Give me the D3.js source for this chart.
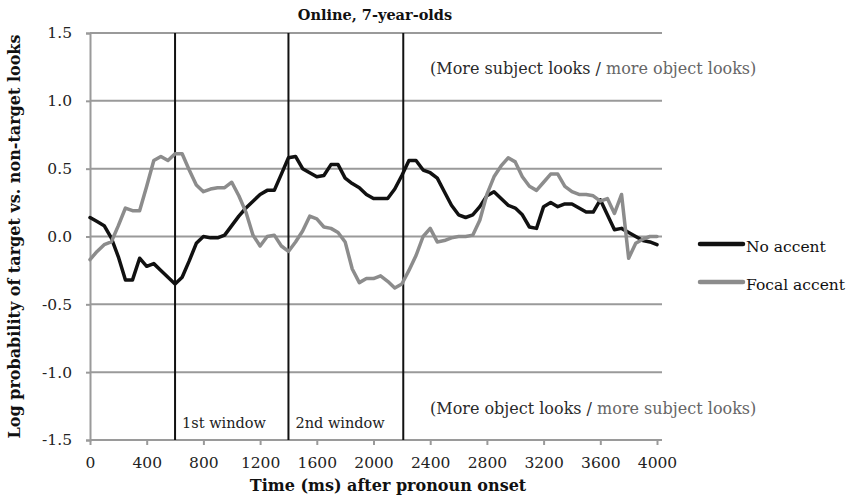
<!DOCTYPE html>
<html>
<head>
<meta charset="utf-8">
<script src="https://cdn.jsdelivr.net/npm/d3@7/dist/d3.min.js"></script>
<style>
  body { margin: 0; background: #fff; }
  svg { display: block; }
</style>
</head>
<body>
<svg id="chart" width="847" height="496"></svg>
<script>
// Sample times (ms after pronoun onset), one every 50 ms
const times = d3.range(0, 4001, 50);

// Log probability of target vs. non-target looks
const noAccent = [
  0.14, 0.11, 0.08, -0.01, -0.15, -0.32, -0.32, -0.16, -0.22, -0.20,
  -0.25, -0.30, -0.35, -0.30, -0.18, -0.05, 0.00, -0.01, -0.01, 0.01,
  0.08, 0.15, 0.21, 0.26, 0.31, 0.34, 0.34, 0.46, 0.58, 0.59,
  0.50, 0.47, 0.44, 0.45, 0.53, 0.53, 0.43, 0.39, 0.36, 0.31,
  0.28, 0.28, 0.28, 0.35, 0.45, 0.56, 0.56, 0.49, 0.47, 0.43,
  0.33, 0.23, 0.16, 0.14, 0.16, 0.22, 0.30, 0.33, 0.28, 0.23,
  0.21, 0.16, 0.07, 0.06, 0.22, 0.25, 0.22, 0.24, 0.24, 0.21,
  0.18, 0.18, 0.27, 0.16, 0.05, 0.06, 0.03, 0.00, -0.03, -0.04,
  -0.06
];
const focalAccent = [
  -0.17, -0.11, -0.06, -0.04, 0.08, 0.21, 0.19, 0.19, 0.37, 0.56,
  0.59, 0.56, 0.61, 0.61, 0.49, 0.38, 0.33, 0.35, 0.36, 0.36,
  0.40, 0.30, 0.18, 0.01, -0.07, 0.00, 0.01, -0.07, -0.11, -0.04,
  0.04, 0.15, 0.13, 0.07, 0.06, 0.03, -0.04, -0.24, -0.34, -0.31,
  -0.31, -0.29, -0.33, -0.38, -0.35, -0.25, -0.14, 0.00, 0.06, -0.04,
  -0.03, -0.01, 0.00, 0.00, 0.01, 0.12, 0.31, 0.44, 0.52, 0.58,
  0.55, 0.44, 0.37, 0.34, 0.40, 0.46, 0.46, 0.37, 0.33, 0.31,
  0.31, 0.30, 0.26, 0.28, 0.17, 0.31, -0.16, -0.05, -0.02, 0.00,
  0.00
];

const seriesNames = ["No accent", "Focal accent"];
const seriesColors = ["#111111", "#8c8c8c"];

const xTicks = [0, 400, 800, 1200, 1600, 2000, 2400, 2800, 3200, 3600, 4000];
const yTicks = [-1.5, -1.0, -0.5, 0.0, 0.5, 1.0, 1.5];

// Analysis window boundaries and their labels
const windowBounds = [600, 1400, 2210];
const windowLabels = ["1st window", "2nd window"];

const titleText = "Online, 7-year-olds";
const xTitle = "Time (ms) after pronoun onset";
const yTitle = "Log probability of target vs. non-target looks";
const noteTop = ["(More subject looks / ", "more object looks)"];
const noteBottom = ["(More object looks / ", "more subject looks)"];

const FONT = "'DejaVu Serif', 'Liberation Serif', serif";

const svg = d3.select("#chart");
const plot = { left: 90, right: 662, top: 33, bottom: 440 };

const x = d3.scaleLinear().domain([0, 4000]).range([plot.left, plot.left + 567]);
const y = d3.scaleLinear().domain([-1.5, 1.5]).range([plot.bottom, plot.top]);

// Horizontal gridlines
svg.append("g")
  .selectAll("line")
  .data(yTicks)
  .join("line")
  .attr("x1", plot.left)
  .attr("x2", plot.right)
  .attr("y1", d => y(d))
  .attr("y2", d => y(d))
  .attr("stroke", "#9a9a9a")
  .attr("stroke-width", 2);

// Y axis (plain hyphen for negatives)
const yAxis = svg.append("g")
  .attr("transform", `translate(${plot.left},0)`)
  .call(d3.axisLeft(y).tickValues(yTicks).tickFormat(d => d.toFixed(1)).tickSize(4).tickPadding(14));
yAxis.select(".domain").attr("stroke", "#9a9a9a").attr("stroke-width", 2);
yAxis.selectAll(".tick line").attr("stroke", "#9a9a9a").attr("stroke-width", 2);
yAxis.selectAll(".tick text")
  .attr("font-family", FONT).attr("font-size", 15.5).attr("fill", "#222");

// X axis
const xAxis = svg.append("g")
  .attr("transform", `translate(0,${plot.bottom})`)
  .call(d3.axisBottom(x).tickValues(xTicks).tickFormat(d => String(d)).tickSize(5).tickPadding(12));
xAxis.select(".domain").remove();
xAxis.append("line")
  .attr("x1", plot.left).attr("x2", plot.right)
  .attr("stroke", "#9a9a9a").attr("stroke-width", 2);
xAxis.selectAll(".tick line").attr("stroke", "#9a9a9a").attr("stroke-width", 2);
xAxis.selectAll(".tick text")
  .attr("font-family", FONT).attr("font-size", 15.5).attr("fill", "#222");

// Window boundary lines
svg.append("g")
  .selectAll("line")
  .data(windowBounds)
  .join("line")
  .attr("x1", d => x(d))
  .attr("x2", d => x(d))
  .attr("y1", plot.top)
  .attr("y2", plot.bottom)
  .attr("stroke", "#111")
  .attr("stroke-width", 2);

svg.append("g")
  .selectAll("text")
  .data(windowLabels)
  .join("text")
  .attr("x", (d, i) => x(windowBounds[i]) + 7)
  .attr("y", 428)
  .attr("font-family", FONT)
  .attr("font-size", 14.5)
  .attr("fill", "#222")
  .text(d => d);

// Data lines
const line = d3.line()
  .x((d, i) => x(times[i]))
  .y(d => y(d));

[noAccent, focalAccent].forEach((vals, k) => {
  svg.append("path")
    .datum(vals)
    .attr("d", line)
    .attr("fill", "none")
    .attr("stroke", seriesColors[k])
    .attr("stroke-width", 3.5)
    .attr("stroke-linejoin", "round")
    .attr("stroke-linecap", "round");
});

// Direction notes
function note(parts, yPos) {
  const t = svg.append("text")
    .attr("x", 430)
    .attr("y", yPos)
    .attr("font-family", FONT)
    .attr("font-size", 16);
  t.append("tspan").attr("fill", "#2a2a2a").text(parts[0]);
  t.append("tspan").attr("fill", "#666").text(parts[1]);
}
note(noteTop, 74);
note(noteBottom, 414);

// Legend
const legend = svg.append("g");
seriesNames.forEach((name, i) => {
  const ly = 244 + i * 38;
  legend.append("line")
    .attr("x1", 700).attr("x2", 743)
    .attr("y1", ly).attr("y2", ly)
    .attr("stroke", seriesColors[i])
    .attr("stroke-width", 4.5)
    .attr("stroke-linecap", "round");
  legend.append("text")
    .attr("x", 746)
    .attr("y", ly + 8)
    .attr("font-family", FONT)
    .attr("font-size", 15.5)
    .attr("fill", "#111")
    .text(name);
});

// Titles
svg.append("text")
  .attr("x", 375).attr("y", 20)
  .attr("text-anchor", "middle")
  .attr("font-family", FONT).attr("font-size", 14.5).attr("font-weight", "bold")
  .attr("fill", "#111")
  .text(titleText);

svg.append("text")
  .attr("x", 388).attr("y", 491)
  .attr("text-anchor", "middle")
  .attr("font-family", FONT).attr("font-size", 16).attr("font-weight", "bold")
  .attr("fill", "#111")
  .text(xTitle);

svg.append("text")
  .attr("transform", `translate(20,${(plot.top + plot.bottom) / 2}) rotate(-90)`)
  .attr("text-anchor", "middle")
  .attr("font-family", FONT).attr("font-size", 16).attr("font-weight", "bold")
  .attr("fill", "#111")
  .text(yTitle);
</script>
</body>
</html>
